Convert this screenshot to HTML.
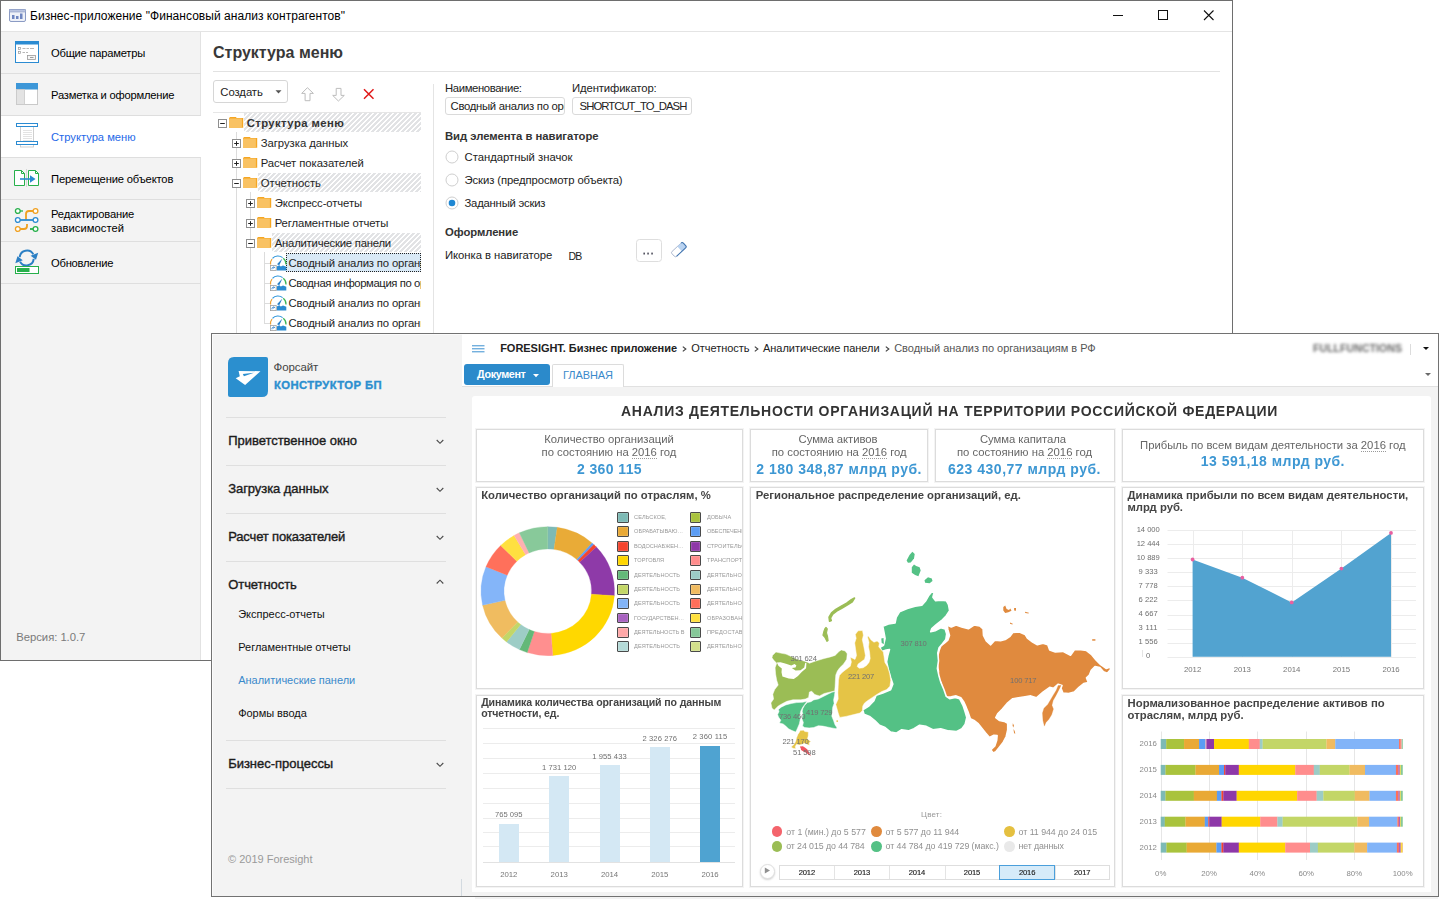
<!DOCTYPE html>
<html><head><meta charset="utf-8"><title>UI</title>
<style>
html,body{margin:0;padding:0;background:#fff;}
body{width:1440px;height:899px;position:relative;overflow:hidden;font-family:"Liberation Sans",sans-serif;font-size:12px;color:#000;}
.a{position:absolute;}
svg.a{overflow:visible;display:block;}
.t{position:absolute;white-space:pre;line-height:20px;height:20px;}
</style></head><body>
<div class="a" style="left:0px;top:0px;width:1233px;height:661px;background:#6e6e6e;"></div>
<div class="a" style="left:1px;top:1px;width:1231px;height:659px;background:#fff;"></div>
<div class="a" style="left:1px;top:31px;width:1231px;height:1px;background:#e4e4e4;"></div>
<svg class="a" style="left:9px;top:9px;" width="17" height="13" viewBox="0 0 17 13"><rect x="0.5" y="0.5" width="16" height="12" rx="1.5" fill="#eef1f8" stroke="#8b9bc4"/><rect x="0.5" y="0.5" width="16" height="2.5" fill="#b9c4e0" stroke="#8b9bc4" stroke-width="0.6"/><rect x="3" y="6" width="2.5" height="4" fill="#6f86c0"/><rect x="7" y="7" width="2.5" height="3" fill="#6f86c0"/><rect x="11" y="4.5" width="2.5" height="5.5" fill="#6f86c0"/></svg>
<div class="t" style="left:30.00px;top:6.00px;font-size:12px;letter-spacing:0.041px;">Бизнес-приложение &quot;Финансовый анализ контрагентов&quot;</div>
<svg class="a" style="left:1108px;top:6px;" width="110" height="20" viewBox="0 0 110 20"><path d="M5 9.5H15" stroke="#111" stroke-width="1" fill="none"/><rect x="50.5" y="4.5" width="9" height="9" fill="none" stroke="#111" stroke-width="1"/><path d="M96 4.5L105.5 14M105.5 4.5L96 14" stroke="#111" stroke-width="1.1" fill="none"/></svg>
<div class="a" style="left:1px;top:32px;width:199px;height:628px;background:#f3f3f3;"></div>
<div class="a" style="left:200px;top:32px;width:1px;height:628px;background:#e2e2e2;"></div>
<div class="a" style="left:1px;top:73px;width:200px;height:1px;background:#dedede;"></div>
<div class="a" style="left:1px;top:115px;width:200px;height:1px;background:#dedede;"></div>
<div class="a" style="left:1px;top:157px;width:200px;height:1px;background:#dedede;"></div>
<div class="a" style="left:1px;top:199px;width:200px;height:1px;background:#dedede;"></div>
<div class="a" style="left:1px;top:241px;width:200px;height:1px;background:#dedede;"></div>
<div class="a" style="left:1px;top:283px;width:200px;height:1px;background:#dedede;"></div>
<div class="a" style="left:1px;top:116px;width:200px;height:41px;background:#fff;"></div>
<div class="t" style="left:51.00px;top:43.00px;font-size:11.2px;letter-spacing:-0.236px;">Общие параметры</div>
<div class="t" style="left:51.00px;top:85.00px;font-size:11.2px;letter-spacing:-0.213px;">Разметка и оформление</div>
<div class="t" style="left:51.00px;top:127.00px;font-size:11.2px;color:#2468e8;">Структура меню</div>
<div class="t" style="left:51.00px;top:169.00px;font-size:11.2px;letter-spacing:-0.157px;">Перемещение объектов</div>
<div class="t" style="left:51.00px;top:204.00px;font-size:11.2px;letter-spacing:-0.145px;">Редактирование</div>
<div class="t" style="left:51.00px;top:218.00px;font-size:11.2px;letter-spacing:0.069px;">зависимостей</div>
<div class="t" style="left:51.00px;top:253.00px;font-size:11.2px;letter-spacing:-0.241px;">Обновление</div>
<svg class="a" style="left:15px;top:41px;" width="24" height="22" viewBox="0 0 24 22"><rect x="0.5" y="0.5" width="23" height="21" fill="#fff" stroke="#2b8bd2"/><rect x="0.5" y="0.5" width="23" height="3" fill="#2b8bd2"/><rect x="3.5" y="6.5" width="2" height="2" fill="none" stroke="#9a9a9a" stroke-width="0.7"/><rect x="3.5" y="10.5" width="2" height="2" fill="none" stroke="#9a9a9a" stroke-width="0.7"/><path d="M7.5 7.5h3M11.5 7.5h2.5M15 7.5h4M7.5 11.5h2.5M11 11.5h2" stroke="#a5a5a5" stroke-width="0.8"/><rect x="12.5" y="14.5" width="8" height="4" fill="#f5f5f5" stroke="#9a9a9a" stroke-width="0.8"/><path d="M15 16.5h3.5" stroke="#888" stroke-width="0.8"/></svg>
<svg class="a" style="left:16px;top:83px;" width="22" height="22" viewBox="0 0 22 22"><rect x="0.5" y="0.5" width="21" height="21" fill="#fff" stroke="#c9c9c9"/><rect x="0" y="0" width="22" height="6.5" fill="#3d97d8"/><rect x="0.5" y="6.5" width="8" height="15" fill="#e3e3e3" stroke="#c9c9c9" stroke-width="0.8"/></svg>
<svg class="a" style="left:16px;top:123px;" width="22" height="25" viewBox="0 0 22 25"><rect x="4.5" y="3" width="13" height="21" fill="#fff" stroke="#c4c4c4" stroke-width="0.8"/><path d="M7 7.5h9M7 9.5h9M7 11.5h9M7 13.5h9M7 15.5h9M7 17.5h9" stroke="#dcdcdc" stroke-width="0.8"/><rect x="0.5" y="0.5" width="21" height="3" fill="#fff" stroke="#2b8bd2"/><rect x="0.5" y="18.5" width="21" height="3" fill="#fff" stroke="#2b8bd2"/></svg>
<svg class="a" style="left:13px;top:169px;" width="27" height="18" viewBox="0 0 27 18"><path d="M1.5 1.5h7l3 3v12h-10z" fill="#fff" stroke="#27b04b"/><path d="M15.5 1.5h7l3 3v12h-10z" fill="#fff" stroke="#27b04b"/><path d="M8.5 1.5v3h3M22.500 1.5v3h3" fill="none" stroke="#27b04b"/><path d="M13.5 0v18" stroke="#c8c8c8" stroke-width="0.7"/><path d="M7 10h12" stroke="#2b8bd2" stroke-width="1.6"/><path d="M17 6.300l5.500 3.700-5.500 3.700z" fill="#2b8bd2"/></svg>
<svg class="a" style="left:14px;top:207px;" width="26" height="26" viewBox="0 0 26 26"><g fill="#fff" stroke-width="1.3"><path d="M6 4h3" stroke="#27b04b" fill="none"/><path d="M12 13V7q0-3 3-3h4" stroke="#f0a020" fill="none" stroke-width="1.8"/><path d="M6 13h14" stroke="#2b8bd2" stroke-width="1.8"/><path d="M6 22h4q3 0 3-3v-2" stroke="#f0a020" fill="none" stroke-width="1.8"/><path d="M16 22h4" stroke="#27b04b" stroke-width="1.8"/><circle cx="3.8" cy="4" r="2.4" stroke="#27b04b"/><circle cx="21.500" cy="4" r="2.4" stroke="#f0a020"/><circle cx="3.8" cy="13" r="2.4" stroke="#2b8bd2"/><circle cx="21.500" cy="13" r="2.4" stroke="#2b8bd2"/><circle cx="3.8" cy="22" r="2.4" stroke="#f0a020"/><circle cx="21.500" cy="22" r="2.4" stroke="#27b04b"/></g></svg>
<svg class="a" style="left:15px;top:248px;" width="25" height="27" viewBox="0 0 25 27"><path d="M4.700 9.200A7.300 7.300 0 0 1 18.300 6.300" fill="none" stroke="#2b7fc4" stroke-width="2"/><path d="M15.600 7.800L23.200 4.800L21 11.800z" fill="#2b7fc4"/><path d="M18.700 10.800A7.300 7.300 0 0 1 5.100 13.700" fill="none" stroke="#2b7fc4" stroke-width="2"/><path d="M7.800 12.200L0.300 15.200L2.500 8.200z" fill="#2b7fc4"/><rect x="0.500" y="18.500" width="23" height="7" fill="#fff" stroke="#27b04b"/><rect x="2" y="20" width="12.500" height="4" fill="#27b04b"/></svg>
<div class="t" style="left:16.30px;top:627.30px;font-size:11.3px;color:#7a7a7a;letter-spacing:-0.046px;">Версия: 1.0.7</div>
<div class="t" style="left:213.00px;top:42.50px;font-size:16px;font-weight:700;color:#383838;">Структура меню</div>
<div class="a" style="left:213px;top:71px;width:1007px;height:1px;background:#e2e2e2;"></div>
<div class="a" style="left:213px;top:80px;width:75px;height:23px;border:1px solid #d6d6d6;border-radius:3px;box-sizing:border-box;background:#fff;"></div>
<div class="t" style="left:220.30px;top:81.80px;font-size:11.3px;color:#222;letter-spacing:-0.062px;">Создать</div>
<svg class="a" style="left:275px;top:90px;" width="7" height="4" viewBox="0 0 7 4"><path d="M0.5 0.3h6L3.5 3.500z" fill="#555"/></svg>
<svg class="a" style="left:300px;top:87px;" width="14" height="15" viewBox="0 0 14 15"><path d="M7.400 0.700L1.700 6.400H5.100V13.700H10V6.400H13.400z" fill="#fff" stroke="#bdbdbd" stroke-width="1"/></svg>
<svg class="a" style="left:331px;top:87px;" width="14" height="15" viewBox="0 0 14 15"><path d="M7.400 14L1.700 8.400H5.200V1.400H10V8.400H13.300z" fill="#fff" stroke="#bdbdbd" stroke-width="1"/></svg>
<svg class="a" style="left:362px;top:88px;" width="13" height="12" viewBox="0 0 13 12"><path d="M2 1.300L11.500 10.700M11.500 1.300L2 10.700" stroke="#e01818" stroke-width="1.5" fill="none"/></svg>
<div class="a" style="left:433px;top:84px;width:1px;height:250px;background:#e4e4e4;"></div>
<div class="a" style="left:236px;top:132px;width:1px;height:202px;background:#dcdcdc;"></div>
<div class="a" style="left:250px;top:192px;width:1px;height:142px;background:#dcdcdc;"></div>
<div class="a" style="left:264px;top:252px;width:1px;height:72px;background:#dcdcdc;"></div>
<div class="a" style="left:264px;top:263px;width:6px;height:1px;background:#dcdcdc;"></div>
<div class="a" style="left:264px;top:283px;width:6px;height:1px;background:#dcdcdc;"></div>
<div class="a" style="left:264px;top:303px;width:6px;height:1px;background:#dcdcdc;"></div>
<div class="a" style="left:264px;top:323px;width:6px;height:1px;background:#dcdcdc;"></div>
<div class="a" style="left:213px;top:112px;width:208px;height:1px;background:#e6e6e6;"></div>
<svg class="a" width="0" height="0" style="left:0;top:0"><defs><pattern id="hp" width="5" height="5" patternUnits="userSpaceOnUse"><rect x="0" y="0" width="1" height="1" fill="#e2e3e5"/><rect x="1" y="0" width="1" height="1" fill="#e2e3e5"/><rect x="2" y="0" width="1" height="1" fill="#e2e3e5"/><rect x="0" y="1" width="1" height="1" fill="#e2e3e5"/><rect x="1" y="1" width="1" height="1" fill="#e2e3e5"/><rect x="4" y="1" width="1" height="1" fill="#e2e3e5"/><rect x="0" y="2" width="1" height="1" fill="#e2e3e5"/><rect x="3" y="2" width="1" height="1" fill="#e2e3e5"/><rect x="4" y="2" width="1" height="1" fill="#e2e3e5"/><rect x="2" y="3" width="1" height="1" fill="#e2e3e5"/><rect x="3" y="3" width="1" height="1" fill="#e2e3e5"/><rect x="4" y="3" width="1" height="1" fill="#e2e3e5"/><rect x="1" y="4" width="1" height="1" fill="#e2e3e5"/><rect x="2" y="4" width="1" height="1" fill="#e2e3e5"/><rect x="3" y="4" width="1" height="1" fill="#e2e3e5"/></pattern></defs></svg>
<svg class="a" style="left:244px;top:113px;shape-rendering:crispEdges;" width="177" height="19" viewBox="0 0 177 19"><rect width="177" height="19" fill="#ffffff"/><rect width="177" height="19" fill="url(#hp)"/></svg>
<svg class="a" style="left:258px;top:173px;shape-rendering:crispEdges;" width="163" height="19" viewBox="0 0 163 19"><rect width="163" height="19" fill="#ffffff"/><rect width="163" height="19" fill="url(#hp)"/></svg>
<svg class="a" style="left:272px;top:233px;shape-rendering:crispEdges;" width="149" height="19" viewBox="0 0 149 19"><rect width="149" height="19" fill="#ffffff"/><rect width="149" height="19" fill="url(#hp)"/></svg>
<div class="a" style="left:286px;top:253px;width:135px;height:19px;background:#d9e9f6;border:1px dotted #222;box-sizing:border-box;"></div>
<svg class="a" style="left:218px;top:119px;" width="9" height="9" viewBox="0 0 9 9"><rect x="0.5" y="0.5" width="8" height="8" fill="#fff" stroke="#8f8f8f"/><path d="M2.200 4.500h4.600" stroke="#222" stroke-width="1"/></svg>
<svg class="a" style="left:228.8px;top:117px;" width="15" height="11" viewBox="0 0 15 11"><path d="M1.200 0H7L7.600 1.100H14.200V10.800H0V1.100z" fill="#f5a623"/><rect x="0" y="1.500" width="12.900" height="9.300" fill="#f9c263"/></svg>
<div class="t" style="left:246.70px;top:113.00px;font-size:11.3px;font-weight:700;color:#333;letter-spacing:0.410px;">Структура меню</div>
<svg class="a" style="left:232px;top:139px;" width="9" height="9" viewBox="0 0 9 9"><rect x="0.5" y="0.5" width="8" height="8" fill="#fff" stroke="#8f8f8f"/><path d="M2.200 4.500h4.600" stroke="#222" stroke-width="1"/><path d="M4.500 2.200v4.600" stroke="#222" stroke-width="1"/></svg>
<svg class="a" style="left:242.8px;top:137px;" width="15" height="11" viewBox="0 0 15 11"><path d="M1.200 0H7L7.600 1.100H14.200V10.800H0V1.100z" fill="#f5a623"/><rect x="0" y="1.500" width="12.900" height="9.300" fill="#f9c263"/></svg>
<div class="t" style="left:260.70px;top:133.00px;font-size:11.3px;color:#1e1e1e;letter-spacing:-0.030px;">Загрузка данных</div>
<svg class="a" style="left:232px;top:159px;" width="9" height="9" viewBox="0 0 9 9"><rect x="0.5" y="0.5" width="8" height="8" fill="#fff" stroke="#8f8f8f"/><path d="M2.200 4.500h4.600" stroke="#222" stroke-width="1"/><path d="M4.500 2.200v4.600" stroke="#222" stroke-width="1"/></svg>
<svg class="a" style="left:242.8px;top:157px;" width="15" height="11" viewBox="0 0 15 11"><path d="M1.200 0H7L7.600 1.100H14.200V10.800H0V1.100z" fill="#f5a623"/><rect x="0" y="1.500" width="12.900" height="9.300" fill="#f9c263"/></svg>
<div class="t" style="left:260.70px;top:153.00px;font-size:11.3px;color:#1e1e1e;letter-spacing:-0.065px;">Расчет показателей</div>
<svg class="a" style="left:232px;top:179px;" width="9" height="9" viewBox="0 0 9 9"><rect x="0.5" y="0.5" width="8" height="8" fill="#fff" stroke="#8f8f8f"/><path d="M2.200 4.500h4.600" stroke="#222" stroke-width="1"/></svg>
<svg class="a" style="left:242.8px;top:177px;" width="15" height="11" viewBox="0 0 15 11"><path d="M1.200 0H7L7.600 1.100H14.200V10.800H0V1.100z" fill="#f5a623"/><rect x="0" y="1.500" width="12.900" height="9.300" fill="#f9c263"/></svg>
<div class="t" style="left:260.70px;top:173.00px;font-size:11.3px;color:#1e1e1e;letter-spacing:0.013px;">Отчетность</div>
<svg class="a" style="left:246px;top:199px;" width="9" height="9" viewBox="0 0 9 9"><rect x="0.5" y="0.5" width="8" height="8" fill="#fff" stroke="#8f8f8f"/><path d="M2.200 4.500h4.600" stroke="#222" stroke-width="1"/><path d="M4.500 2.200v4.600" stroke="#222" stroke-width="1"/></svg>
<svg class="a" style="left:256.8px;top:197px;" width="15" height="11" viewBox="0 0 15 11"><path d="M1.200 0H7L7.600 1.100H14.200V10.800H0V1.100z" fill="#f5a623"/><rect x="0" y="1.500" width="12.900" height="9.300" fill="#f9c263"/></svg>
<div class="t" style="left:274.70px;top:193.00px;font-size:11.3px;color:#1e1e1e;letter-spacing:-0.105px;">Экспресс-отчеты</div>
<svg class="a" style="left:246px;top:219px;" width="9" height="9" viewBox="0 0 9 9"><rect x="0.5" y="0.5" width="8" height="8" fill="#fff" stroke="#8f8f8f"/><path d="M2.200 4.500h4.600" stroke="#222" stroke-width="1"/><path d="M4.500 2.200v4.600" stroke="#222" stroke-width="1"/></svg>
<svg class="a" style="left:256.8px;top:217px;" width="15" height="11" viewBox="0 0 15 11"><path d="M1.200 0H7L7.600 1.100H14.200V10.800H0V1.100z" fill="#f5a623"/><rect x="0" y="1.500" width="12.900" height="9.300" fill="#f9c263"/></svg>
<div class="t" style="left:274.70px;top:213.00px;font-size:11.3px;color:#1e1e1e;letter-spacing:-0.111px;">Регламентные отчеты</div>
<svg class="a" style="left:246px;top:239px;" width="9" height="9" viewBox="0 0 9 9"><rect x="0.5" y="0.5" width="8" height="8" fill="#fff" stroke="#8f8f8f"/><path d="M2.200 4.500h4.600" stroke="#222" stroke-width="1"/></svg>
<svg class="a" style="left:256.8px;top:237px;" width="15" height="11" viewBox="0 0 15 11"><path d="M1.200 0H7L7.600 1.100H14.200V10.800H0V1.100z" fill="#f5a623"/><rect x="0" y="1.500" width="12.900" height="9.300" fill="#f9c263"/></svg>
<div class="t" style="left:274.70px;top:233.00px;font-size:11.3px;color:#1e1e1e;letter-spacing:-0.205px;">Аналитические панели</div>
<div class="a" style="left:0;top:0;width:421px;height:334px;overflow:hidden">
<svg class="a" style="left:270px;top:256.4px;" width="17" height="15" viewBox="0 0 17 15"><path d="M0.600 8.500A7.600 7.600 0 0 1 2 3" fill="none" stroke="#f0a030" stroke-width="1.200"/><path d="M2.500 2.300A7.600 7.600 0 0 1 12.600 1.600" fill="none" stroke="#2b93d8" stroke-width="1.200"/><path d="M13.300 2.200A7.600 7.600 0 0 1 16 8.500" fill="none" stroke="#3ab457" stroke-width="1.200"/><path d="M6.700 14.400V10.400L9.200 9.200L10.800 10.400L13 9.600L16.300 10.800V14.400z" fill="#2b8bd2"/><path d="M7 8.300L12.400 2.600L9.300 9.300z" fill="#2b7fc4"/><rect x="0.400" y="9.400" width="5.800" height="5.200" fill="#fff" stroke="#a0a0a0" stroke-width="0.800"/><path d="M2 13.300V12.300q0-0.900 1.300-0.900H4.400M3.500 10.400l1.100 1-1.100 1" fill="none" stroke="#2b7fd0" stroke-width="0.900"/></svg>
<div class="t" style="left:288.50px;top:253.00px;font-size:11.3px;color:#1e1e1e;letter-spacing:-0.143px;">Сводный анализ по организациям в РФ</div>
<svg class="a" style="left:270px;top:276.4px;" width="17" height="15" viewBox="0 0 17 15"><path d="M0.600 8.500A7.600 7.600 0 0 1 2 3" fill="none" stroke="#f0a030" stroke-width="1.200"/><path d="M2.500 2.300A7.600 7.600 0 0 1 12.600 1.600" fill="none" stroke="#2b93d8" stroke-width="1.200"/><path d="M13.300 2.200A7.600 7.600 0 0 1 16 8.500" fill="none" stroke="#3ab457" stroke-width="1.200"/><path d="M6.700 14.400V10.400L9.200 9.200L10.800 10.400L13 9.600L16.300 10.800V14.400z" fill="#2b8bd2"/><path d="M7 8.300L12.400 2.600L9.300 9.300z" fill="#2b7fc4"/><rect x="0.400" y="9.400" width="5.800" height="5.200" fill="#fff" stroke="#a0a0a0" stroke-width="0.800"/><path d="M2 13.300V12.300q0-0.900 1.300-0.900H4.400M3.500 10.400l1.100 1-1.100 1" fill="none" stroke="#2b7fd0" stroke-width="0.900"/></svg>
<div class="t" style="left:288.50px;top:273.00px;font-size:11.3px;color:#1e1e1e;letter-spacing:-0.403px;">Сводная информация по организации</div>
<svg class="a" style="left:270px;top:296.4px;" width="17" height="15" viewBox="0 0 17 15"><path d="M0.600 8.500A7.600 7.600 0 0 1 2 3" fill="none" stroke="#f0a030" stroke-width="1.200"/><path d="M2.500 2.300A7.600 7.600 0 0 1 12.600 1.600" fill="none" stroke="#2b93d8" stroke-width="1.200"/><path d="M13.300 2.200A7.600 7.600 0 0 1 16 8.500" fill="none" stroke="#3ab457" stroke-width="1.200"/><path d="M6.700 14.400V10.400L9.200 9.200L10.800 10.400L13 9.600L16.300 10.800V14.400z" fill="#2b8bd2"/><path d="M7 8.300L12.400 2.600L9.300 9.300z" fill="#2b7fc4"/><rect x="0.400" y="9.400" width="5.800" height="5.200" fill="#fff" stroke="#a0a0a0" stroke-width="0.800"/><path d="M2 13.300V12.300q0-0.900 1.300-0.900H4.400M3.500 10.400l1.100 1-1.100 1" fill="none" stroke="#2b7fd0" stroke-width="0.900"/></svg>
<div class="t" style="left:288.50px;top:293.00px;font-size:11.3px;color:#1e1e1e;letter-spacing:-0.143px;">Сводный анализ по организациям (регион)</div>
<svg class="a" style="left:270px;top:316.4px;" width="17" height="15" viewBox="0 0 17 15"><path d="M0.600 8.500A7.600 7.600 0 0 1 2 3" fill="none" stroke="#f0a030" stroke-width="1.200"/><path d="M2.500 2.300A7.600 7.600 0 0 1 12.600 1.600" fill="none" stroke="#2b93d8" stroke-width="1.200"/><path d="M13.300 2.200A7.600 7.600 0 0 1 16 8.500" fill="none" stroke="#3ab457" stroke-width="1.200"/><path d="M6.700 14.400V10.400L9.200 9.200L10.800 10.400L13 9.600L16.300 10.800V14.400z" fill="#2b8bd2"/><path d="M7 8.300L12.400 2.600L9.300 9.300z" fill="#2b7fc4"/><rect x="0.400" y="9.400" width="5.800" height="5.200" fill="#fff" stroke="#a0a0a0" stroke-width="0.800"/><path d="M2 13.300V12.300q0-0.900 1.300-0.900H4.400M3.500 10.400l1.100 1-1.100 1" fill="none" stroke="#2b7fd0" stroke-width="0.900"/></svg>
<div class="t" style="left:288.50px;top:313.00px;font-size:11.3px;color:#1e1e1e;letter-spacing:-0.143px;">Сводный анализ по организациям (отрасль)</div>
</div>
<div class="t" style="left:445.00px;top:78.00px;font-size:11.3px;color:#222;letter-spacing:-0.373px;">Наименование:</div>
<div class="t" style="left:572.00px;top:78.00px;font-size:11.3px;color:#222;letter-spacing:-0.122px;">Идентификатор:</div>
<div class="a" style="left:445px;top:97px;width:120px;height:18px;border:1px solid #dadada;border-radius:3px;box-sizing:border-box;background:#fff;"></div>
<div class="a" style="left:572px;top:97px;width:120px;height:18px;border:1px solid #dadada;border-radius:3px;box-sizing:border-box;background:#fff;"></div>
<div class="a" style="left:446px;top:98px;width:117.500px;height:16px;overflow:hidden">
<div class="a" style="left:-446px;top:-98px">
<div class="t" style="left:450.50px;top:95.60px;font-size:11.3px;color:#222;letter-spacing:-0.280px;">Сводный анализ по организациям в РФ</div>
</div></div>
<div class="t" style="left:579.60px;top:95.60px;font-size:11.3px;color:#222;letter-spacing:-0.950px;">SHORTCUT_TO_DASH</div>
<div class="t" style="left:445.00px;top:126.20px;font-size:11.3px;font-weight:700;color:#333;letter-spacing:-0.039px;">Вид элемента в навигаторе</div>
<svg class="a" style="left:444.5px;top:149.9px;" width="14" height="14" viewBox="0 0 14 14"><circle cx="7" cy="7" r="6" fill="#fff" stroke="#cfcfcf"/></svg>
<div class="t" style="left:464.50px;top:147.20px;font-size:11.3px;color:#222;letter-spacing:-0.010px;">Стандартный значок</div>
<svg class="a" style="left:444.5px;top:172.9px;" width="14" height="14" viewBox="0 0 14 14"><circle cx="7" cy="7" r="6" fill="#fff" stroke="#cfcfcf"/></svg>
<div class="t" style="left:464.50px;top:170.20px;font-size:11.3px;color:#222;letter-spacing:-0.098px;">Эскиз (предпросмотр объекта)</div>
<svg class="a" style="left:444.5px;top:195.9px;" width="14" height="14" viewBox="0 0 14 14"><circle cx="7" cy="7" r="6" fill="#fff" stroke="#cfcfcf"/><circle cx="7" cy="7" r="3.300" fill="#1f87d3"/></svg>
<div class="t" style="left:464.50px;top:193.00px;font-size:11.3px;color:#222;letter-spacing:-0.220px;">Заданный эскиз</div>
<div class="t" style="left:445.00px;top:222.00px;font-size:11.3px;font-weight:700;color:#333;letter-spacing:-0.071px;">Оформление</div>
<div class="t" style="left:445.00px;top:245.20px;font-size:11.3px;color:#222;letter-spacing:-0.043px;">Иконка в навигаторе</div>
<div class="t" style="left:568.40px;top:245.50px;font-size:10.5px;color:#222;letter-spacing:-0.847px;">DB</div>
<div class="a" style="left:636.3px;top:239.2px;width:25.4px;height:22.5px;border:1px solid #dedede;border-radius:3.500px;box-sizing:border-box;background:#fff;"></div>
<svg class="a" style="left:643.4px;top:252.4px;" width="11" height="3" viewBox="0 0 11 3"><rect x="0.500" y="0.600" width="1.300" height="1.900" fill="#2a2a3a"/><rect x="4.400" y="0.600" width="1.300" height="1.900" fill="#2a2a3a"/><rect x="8.400" y="0.600" width="1.300" height="1.900" fill="#2a2a3a"/></svg>
<svg class="a" style="left:669.5px;top:240.7px;" width="18" height="17" viewBox="0 0 18 17"><g transform="rotate(-43 9 8.500)"><rect x="1" y="5.200" width="15.500" height="6.600" rx="1.600" fill="#fff" stroke="#9aa9c4" stroke-width="0.800"/><path d="M9.800 5.200H14.900Q16.500 5.200 16.500 6.800V10.200Q16.500 11.800 14.900 11.800H9.800z" fill="#b9d3f1"/><path d="M2.600 11.800H14.900Q16.500 11.800 16.500 10.200V6.800Q16.500 5.200 14.900 5.200" fill="none" stroke="#4377b2" stroke-width="1.100"/></g></svg>
<div class="a" style="left:211px;top:333px;width:1228px;height:564px;background:#727272;"></div>
<div class="a" style="left:212px;top:334px;width:1226px;height:562px;background:#f3f3f3;"></div>
<div class="a" style="left:212px;top:334px;width:250px;height:1px;background:#fbfbfb;"></div>
<div class="a" style="left:212px;top:334px;width:1px;height:562px;background:#fbfbfb;"></div>
<svg class="a" style="left:228px;top:357px;" width="40" height="40" viewBox="0 0 40 40"><path d="M6 0H38Q40 0 40 2V34Q40 40 34 40H2Q0 40 0 38V6Q0 0 6 0z" fill="#2b8fcf"/><path d="M10.600 13.900L32.500 14.200L17.100 28.100L7.700 21.300L11.800 19.200z" fill="#fff"/><path d="M14.800 16.900L26 15.700L15.900 19.200z" fill="#2b8fcf"/></svg>
<div class="t" style="left:273.60px;top:357.00px;font-size:11.5px;color:#444;letter-spacing:-0.125px;">Форсайт</div>
<div class="t" style="left:273.90px;top:374.50px;font-size:11.3px;font-weight:700;color:#2b8fcf;letter-spacing:0.405px;-webkit-text-stroke:0.350px #2b8fcf;">КОНСТРУКТОР БП</div>
<div class="a" style="left:226px;top:417px;width:220px;height:1px;background:#dfdfdf;"></div>
<div class="a" style="left:226px;top:465px;width:220px;height:1px;background:#dfdfdf;"></div>
<div class="a" style="left:226px;top:513px;width:220px;height:1px;background:#dfdfdf;"></div>
<div class="a" style="left:226px;top:561px;width:220px;height:1px;background:#dfdfdf;"></div>
<div class="a" style="left:226px;top:740px;width:220px;height:1px;background:#dfdfdf;"></div>
<div class="a" style="left:226px;top:788px;width:220px;height:1px;background:#dfdfdf;"></div>
<div class="t" style="left:228.20px;top:430.80px;font-size:13px;color:#1c1c1c;letter-spacing:-0.032px;-webkit-text-stroke:0.380px #1c1c1c;">Приветственное окно</div>
<svg class="a" style="left:435.5px;top:439.0px;" width="8" height="6" viewBox="0 0 8 6"><path d="M0.700 1L4 4.300L7.300 1" fill="none" stroke="#4a4a4a" stroke-width="1.100"/></svg>
<div class="t" style="left:228.20px;top:478.80px;font-size:13px;color:#1c1c1c;letter-spacing:-0.067px;-webkit-text-stroke:0.380px #1c1c1c;">Загрузка данных</div>
<svg class="a" style="left:435.5px;top:487.0px;" width="8" height="6" viewBox="0 0 8 6"><path d="M0.700 1L4 4.300L7.300 1" fill="none" stroke="#4a4a4a" stroke-width="1.100"/></svg>
<div class="t" style="left:228.20px;top:526.80px;font-size:13px;color:#1c1c1c;letter-spacing:-0.161px;-webkit-text-stroke:0.380px #1c1c1c;">Расчет показателей</div>
<svg class="a" style="left:435.5px;top:535.0px;" width="8" height="6" viewBox="0 0 8 6"><path d="M0.700 1L4 4.300L7.300 1" fill="none" stroke="#4a4a4a" stroke-width="1.100"/></svg>
<div class="t" style="left:228.20px;top:574.60px;font-size:13px;color:#1c1c1c;letter-spacing:-0.063px;-webkit-text-stroke:0.380px #1c1c1c;">Отчетность</div>
<svg class="a" style="left:435.5px;top:579.4px;" width="8" height="6" viewBox="0 0 8 6"><path d="M0.700 4.500L4 1.200L7.300 4.500" fill="none" stroke="#4a4a4a" stroke-width="1.100"/></svg>
<div class="t" style="left:228.20px;top:754.00px;font-size:13px;color:#1c1c1c;letter-spacing:-0.025px;-webkit-text-stroke:0.380px #1c1c1c;">Бизнес-процессы</div>
<svg class="a" style="left:435.5px;top:762.2px;" width="8" height="6" viewBox="0 0 8 6"><path d="M0.700 1L4 4.300L7.300 1" fill="none" stroke="#4a4a4a" stroke-width="1.100"/></svg>
<div class="t" style="left:238.20px;top:603.60px;font-size:11px;color:#111;letter-spacing:-0.010px;">Экспресс-отчеты</div>
<div class="t" style="left:238.20px;top:636.70px;font-size:11px;color:#111;letter-spacing:-0.004px;">Регламентные отчеты</div>
<div class="t" style="left:238.20px;top:670.00px;font-size:11px;color:#3a8acb;letter-spacing:-0.011px;">Аналитические панели</div>
<div class="t" style="left:238.20px;top:703.00px;font-size:11px;color:#111;letter-spacing:-0.046px;">Формы ввода</div>
<div class="t" style="left:228.00px;top:849.30px;font-size:11px;color:#9a9a9a;">© 2019 Foresight</div>
<div class="a" style="left:462px;top:334px;width:976px;height:52px;background:#fff;"></div>
<div class="a" style="left:462px;top:386px;width:976px;height:1px;background:#e1e1e1;"></div>
<svg class="a" style="left:471.5px;top:345px;" width="13" height="7" viewBox="0 0 13 7"><path d="M0 0.800h12.500M0 3.800h12.500M0 6.800h12.500" stroke="#3a8fd0" stroke-width="1"/></svg>
<div class="t" style="left:500.20px;top:338.00px;font-size:11px;font-weight:700;color:#222;letter-spacing:-0.037px;">FORESIGHT. Бизнес приложение</div>
<div class="t" style="left:691.20px;top:338.00px;font-size:11px;color:#222;letter-spacing:-0.028px;">Отчетность</div>
<div class="t" style="left:763.00px;top:338.00px;font-size:11px;color:#222;letter-spacing:-0.036px;">Аналитические панели</div>
<div class="t" style="left:894.20px;top:338.00px;font-size:11px;color:#555;letter-spacing:-0.021px;">Сводный анализ по организациям в РФ</div>
<svg class="a" style="left:682px;top:345.5px;" width="5" height="6" viewBox="0 0 5 6"><path d="M0.800 0.600L3.800 3L0.800 5.400" fill="none" stroke="#444" stroke-width="1.200"/></svg>
<svg class="a" style="left:753.6px;top:345.5px;" width="5" height="6" viewBox="0 0 5 6"><path d="M0.800 0.600L3.800 3L0.800 5.400" fill="none" stroke="#444" stroke-width="1.200"/></svg>
<svg class="a" style="left:885px;top:345.5px;" width="5" height="6" viewBox="0 0 5 6"><path d="M0.800 0.600L3.800 3L0.800 5.400" fill="none" stroke="#444" stroke-width="1.200"/></svg>
<div class="a" style="left:1313px;top:341px;width:90px;height:14px;filter:blur(1.600px);">
<div class="a" style="left:-1313px;top:-341px">
<div class="t" style="left:1313.00px;top:338.00px;font-size:10.5px;font-weight:700;color:#666;letter-spacing:0.071px;">FULLFUNCTIONS</div>
</div></div>
<div class="a" style="left:1410px;top:344px;width:1px;height:11px;background:#dcdcdc;"></div>
<svg class="a" style="left:1423px;top:347px;" width="6" height="3" viewBox="0 0 6 3"><path d="M0 0h6L3 3z" fill="#111"/></svg>
<svg class="a" style="left:1425px;top:373px;" width="6" height="3" viewBox="0 0 6 3"><path d="M0 0h6L3 3z" fill="#6a6a6a"/></svg>
<div class="a" style="left:464px;top:364px;width:86px;height:21px;background:#2b8acb;border-radius:3px;"></div>
<div class="t" style="left:477.00px;top:364.00px;font-size:10.8px;font-weight:700;color:#fff;letter-spacing:-0.375px;">Документ</div>
<svg class="a" style="left:533px;top:373.5px;" width="6" height="3.5" viewBox="0 0 6 3.5"><path d="M0 0h6L3 3.300z" fill="#fff"/></svg>
<div class="a" style="left:552px;top:364px;width:72px;height:23px;background:#fff;border:1px solid #dcdcdc;border-bottom:none;box-sizing:border-box;border-radius:2px 2px 0 0;"></div>
<div class="t" style="left:563.00px;top:364.80px;font-size:11px;color:#3a8acb;letter-spacing:-0.067px;">ГЛАВНАЯ</div>
<div class="a" style="left:472px;top:396px;width:958.5px;height:496px;background:#fff;border-radius:3px 3px 0 0;"></div>
<div class="a" style="left:461px;top:879px;width:1px;height:17px;background:#d3dae0;"></div>
<div class="a" style="left:475px;top:897px;width:963px;height:2px;background:#f2f2f2;"></div>
<div class="a" style="left:0;top:0;width:1440px;height:899px;filter:blur(0.350px);">
<div class="t" style="left:621.00px;top:400.80px;font-size:14px;font-weight:700;color:#333;letter-spacing:0.706px;">АНАЛИЗ ДЕЯТЕЛЬНОСТИ ОРГАНИЗАЦИЙ НА ТЕРРИТОРИИ РОССИЙСКОЙ ФЕДЕРАЦИИ</div>
<div class="a" style="left:476px;top:429px;width:267px;height:53px;border:1px solid #dcdcdc;box-sizing:border-box;background:#fff;box-shadow:0 0 0 1px #f4f4f4;"></div>
<div class="t" style="left:544.25px;top:429.00px;font-size:11.3px;color:#666;letter-spacing:-0.006px;">Количество организаций</div>
<div class="t" style="left:541.60px;top:442.20px;font-size:11.3px;color:#666;letter-spacing:-0.020px;">по состоянию на <span style="border-bottom:1px dotted #999;display:inline-block;line-height:12px;">2016</span> год</div>
<div class="t" style="left:577.00px;top:458.50px;font-size:14px;font-weight:700;color:#3d97d3;letter-spacing:0.387px;">2 360 115</div>
<div class="a" style="left:750px;top:429px;width:178px;height:53px;border:1px solid #dcdcdc;box-sizing:border-box;background:#fff;box-shadow:0 0 0 1px #f4f4f4;"></div>
<div class="t" style="left:798.60px;top:429.00px;font-size:11.3px;color:#666;letter-spacing:-0.065px;">Сумма активов</div>
<div class="t" style="left:771.70px;top:442.20px;font-size:11.3px;color:#666;letter-spacing:-0.012px;">по состоянию на <span style="border-bottom:1px dotted #999;display:inline-block;line-height:12px;">2016</span> год</div>
<div class="t" style="left:756.20px;top:458.50px;font-size:14px;font-weight:700;color:#3d97d3;letter-spacing:0.511px;">2 180 348,87 млрд руб.</div>
<div class="a" style="left:935px;top:429px;width:180px;height:53px;border:1px solid #dcdcdc;box-sizing:border-box;background:#fff;box-shadow:0 0 0 1px #f4f4f4;"></div>
<div class="t" style="left:979.90px;top:429.00px;font-size:11.3px;color:#666;letter-spacing:-0.039px;">Сумма капитала</div>
<div class="t" style="left:957.00px;top:442.20px;font-size:11.3px;color:#666;letter-spacing:-0.012px;">по состоянию на <span style="border-bottom:1px dotted #999;display:inline-block;line-height:12px;">2016</span> год</div>
<div class="t" style="left:948.00px;top:458.50px;font-size:14px;font-weight:700;color:#3d97d3;letter-spacing:0.505px;">623 430,77 млрд руб.</div>
<div class="a" style="left:1122px;top:429px;width:302px;height:53px;border:1px solid #dcdcdc;box-sizing:border-box;background:#fff;box-shadow:0 0 0 1px #f4f4f4;"></div>
<div class="t" style="left:1140.05px;top:434.80px;font-size:11.3px;color:#666;letter-spacing:-0.008px;">Прибыль по всем видам деятельности за <span style="border-bottom:1px dotted #999;display:inline-block;line-height:12px;">2016</span> год</div>
<div class="t" style="left:1200.80px;top:451.20px;font-size:14px;font-weight:700;color:#3d97d3;letter-spacing:0.479px;">13 591,18 млрд руб.</div>
<div class="a" style="left:476px;top:487px;width:267px;height:202px;border:1px solid #dcdcdc;box-sizing:border-box;background:#fff;box-shadow:0 0 0 1px #f4f4f4;"></div>
<div class="t" style="left:481.20px;top:484.80px;font-size:11.3px;font-weight:700;color:#444;letter-spacing:-0.019px;">Количество организаций по отраслям, %</div>
<svg class="a" style="left:0px;top:0px;pointer-events:none;" width="1440" height="899" viewBox="0 0 1440 899"><g transform="translate(547.75 0) scale(1.035 1) translate(-547.75 0)"><path d="M547.75 526.70A64.5 64.5 0 0 1 556.95 527.36L553.78 549.33A42.3 42.3 0 0 0 547.75 548.90z" fill="#7dbab5" stroke="#7dbab5" stroke-width="0.3"/><path d="M556.95 527.36A64.5 64.5 0 0 1 590.57 542.97L575.83 559.57A42.3 42.3 0 0 0 553.78 549.33z" fill="#e9ab37" stroke="#e9ab37" stroke-width="0.3"/><path d="M590.57 542.97A64.5 64.5 0 0 1 592.31 544.57L576.97 560.62A42.3 42.3 0 0 0 575.83 559.57z" fill="#5b9df5" stroke="#5b9df5" stroke-width="0.3"/><path d="M592.31 544.57A64.5 64.5 0 0 1 594.77 547.05L578.59 562.24A42.3 42.3 0 0 0 576.97 560.62z" fill="#f4442e" stroke="#f4442e" stroke-width="0.3"/><path d="M594.77 547.05A64.5 64.5 0 0 1 612.09 595.70L589.95 594.15A42.3 42.3 0 0 0 578.59 562.24z" fill="#8e3aa8" stroke="#8e3aa8" stroke-width="0.3"/><path d="M612.09 595.70A64.5 64.5 0 0 1 552.59 655.52L550.92 633.38A42.3 42.3 0 0 0 589.95 594.15z" fill="#ffd800" stroke="#ffd800" stroke-width="0.3"/><path d="M552.59 655.52A64.5 64.5 0 0 1 527.93 652.58L534.75 631.45A42.3 42.3 0 0 0 550.92 633.38z" fill="#ff8f8f" stroke="#ff8f8f" stroke-width="0.3"/><path d="M527.93 652.58A64.5 64.5 0 0 1 520.39 649.61L529.81 629.51A42.3 42.3 0 0 0 534.75 631.45z" fill="#63b878" stroke="#63b878" stroke-width="0.3"/><path d="M520.39 649.61A64.5 64.5 0 0 1 507.95 641.96L521.65 624.49A42.3 42.3 0 0 0 529.81 629.51z" fill="#9dcdc6" stroke="#9dcdc6" stroke-width="0.3"/><path d="M507.95 641.96A64.5 64.5 0 0 1 503.43 638.06L518.69 621.93A42.3 42.3 0 0 0 521.65 624.49z" fill="#c3d667" stroke="#c3d667" stroke-width="0.3"/><path d="M503.43 638.06A64.5 64.5 0 0 1 484.78 605.16L506.45 600.36A42.3 42.3 0 0 0 518.69 621.93z" fill="#f0bc60" stroke="#f0bc60" stroke-width="0.3"/><path d="M484.78 605.16A64.5 64.5 0 0 1 488.07 566.73L508.61 575.15A42.3 42.3 0 0 0 506.45 600.36z" fill="#84b5f9" stroke="#84b5f9" stroke-width="0.3"/><path d="M488.07 566.73A64.5 64.5 0 0 1 502.30 545.43L517.94 561.19A42.3 42.3 0 0 0 508.61 575.15z" fill="#ff705b" stroke="#ff705b" stroke-width="0.3"/><path d="M502.30 545.43A64.5 64.5 0 0 1 515.21 535.51L526.41 554.68A42.3 42.3 0 0 0 517.94 561.19z" fill="#ffe040" stroke="#ffe040" stroke-width="0.3"/><path d="M515.21 535.51A64.5 64.5 0 0 1 520.29 532.84L529.74 552.93A42.3 42.3 0 0 0 526.41 554.68z" fill="#ffb1b1" stroke="#ffb1b1" stroke-width="0.3"/><path d="M520.29 532.84A64.5 64.5 0 0 1 547.75 526.70L547.75 548.90A42.3 42.3 0 0 0 529.74 552.93z" fill="#88c99a" stroke="#88c99a" stroke-width="0.3"/></g></svg>
<div class="a" style="left:0;top:0;width:742px;height:700px;overflow:hidden">
<div class="a" style="left:616.8px;top:512.1px;width:11.9px;height:10.8px;background:#7dbab5;border:1px solid #4a4a4a;box-sizing:border-box;border-radius:1px;box-shadow:inset 0 0 0 0.500px rgba(255,255,255,0.25);"></div>
<div class="t" style="left:634.10px;top:507.10px;font-size:5.6px;color:#999;letter-spacing:0.069px;">СЕЛЬСКОЕ,</div>
<div class="a" style="left:689.6px;top:512.1px;width:11.9px;height:10.8px;background:#a9c33d;border:1px solid #4a4a4a;box-sizing:border-box;border-radius:1px;box-shadow:inset 0 0 0 0.500px rgba(255,255,255,0.25);"></div>
<div class="t" style="left:706.90px;top:507.10px;font-size:5.6px;color:#999;letter-spacing:0.044px;">ДОБЫЧА</div>
<div class="a" style="left:616.8px;top:526.47px;width:11.9px;height:10.8px;background:#e9a935;border:1px solid #4a4a4a;box-sizing:border-box;border-radius:1px;box-shadow:inset 0 0 0 0.500px rgba(255,255,255,0.25);"></div>
<div class="t" style="left:634.10px;top:521.47px;font-size:5.6px;color:#999;letter-spacing:0.013px;">ОБРАБАТЫВАЮ…</div>
<div class="a" style="left:689.6px;top:526.47px;width:11.9px;height:10.8px;background:#5b9df5;border:1px solid #4a4a4a;box-sizing:border-box;border-radius:1px;box-shadow:inset 0 0 0 0.500px rgba(255,255,255,0.25);"></div>
<div class="t" style="left:706.90px;top:521.47px;font-size:5.6px;color:#999;letter-spacing:-0.072px;">ОБЕСПЕЧЕНИЕ</div>
<div class="a" style="left:616.8px;top:540.84px;width:11.9px;height:10.8px;background:#f4442e;border:1px solid #4a4a4a;box-sizing:border-box;border-radius:1px;box-shadow:inset 0 0 0 0.500px rgba(255,255,255,0.25);"></div>
<div class="t" style="left:634.10px;top:535.84px;font-size:5.6px;color:#999;letter-spacing:-0.036px;">ВОДОСНАБЖЕН…</div>
<div class="a" style="left:689.6px;top:540.84px;width:11.9px;height:10.8px;background:#8e38a8;border:1px solid #4a4a4a;box-sizing:border-box;border-radius:1px;box-shadow:inset 0 0 0 0.500px rgba(255,255,255,0.25);"></div>
<div class="t" style="left:706.90px;top:535.84px;font-size:5.6px;color:#999;letter-spacing:0.093px;">СТРОИТЕЛЬСТВО</div>
<div class="a" style="left:616.8px;top:555.21px;width:11.9px;height:10.8px;background:#ffd600;border:1px solid #4a4a4a;box-sizing:border-box;border-radius:1px;box-shadow:inset 0 0 0 0.500px rgba(255,255,255,0.25);"></div>
<div class="t" style="left:634.10px;top:550.21px;font-size:5.6px;color:#999;letter-spacing:0.037px;">ТОРГОВЛЯ</div>
<div class="a" style="left:689.6px;top:555.21px;width:11.9px;height:10.8px;background:#ff8d8d;border:1px solid #4a4a4a;box-sizing:border-box;border-radius:1px;box-shadow:inset 0 0 0 0.500px rgba(255,255,255,0.25);"></div>
<div class="t" style="left:706.90px;top:550.21px;font-size:5.6px;color:#999;letter-spacing:0.163px;">ТРАНСПОРТИРОВКА</div>
<div class="a" style="left:616.8px;top:569.58px;width:11.9px;height:10.8px;background:#63b878;border:1px solid #4a4a4a;box-sizing:border-box;border-radius:1px;box-shadow:inset 0 0 0 0.500px rgba(255,255,255,0.25);"></div>
<div class="t" style="left:634.10px;top:564.58px;font-size:5.6px;color:#999;letter-spacing:0.051px;">ДЕЯТЕЛЬНОСТЬ</div>
<div class="a" style="left:689.6px;top:569.58px;width:11.9px;height:10.8px;background:#9cccc6;border:1px solid #4a4a4a;box-sizing:border-box;border-radius:1px;box-shadow:inset 0 0 0 0.500px rgba(255,255,255,0.25);"></div>
<div class="t" style="left:706.90px;top:564.58px;font-size:5.6px;color:#999;letter-spacing:0.051px;">ДЕЯТЕЛЬНОСТЬ</div>
<div class="a" style="left:616.8px;top:583.95px;width:11.9px;height:10.8px;background:#c3d667;border:1px solid #4a4a4a;box-sizing:border-box;border-radius:1px;box-shadow:inset 0 0 0 0.500px rgba(255,255,255,0.25);"></div>
<div class="t" style="left:634.10px;top:578.95px;font-size:5.6px;color:#999;letter-spacing:0.051px;">ДЕЯТЕЛЬНОСТЬ</div>
<div class="a" style="left:689.6px;top:583.95px;width:11.9px;height:10.8px;background:#f0bb60;border:1px solid #4a4a4a;box-sizing:border-box;border-radius:1px;box-shadow:inset 0 0 0 0.500px rgba(255,255,255,0.25);"></div>
<div class="t" style="left:706.90px;top:578.95px;font-size:5.6px;color:#999;letter-spacing:0.051px;">ДЕЯТЕЛЬНОСТЬ</div>
<div class="a" style="left:616.8px;top:598.32px;width:11.9px;height:10.8px;background:#82b4f8;border:1px solid #4a4a4a;box-sizing:border-box;border-radius:1px;box-shadow:inset 0 0 0 0.500px rgba(255,255,255,0.25);"></div>
<div class="t" style="left:634.10px;top:593.32px;font-size:5.6px;color:#999;letter-spacing:0.051px;">ДЕЯТЕЛЬНОСТЬ</div>
<div class="a" style="left:689.6px;top:598.32px;width:11.9px;height:10.8px;background:#ff6f5a;border:1px solid #4a4a4a;box-sizing:border-box;border-radius:1px;box-shadow:inset 0 0 0 0.500px rgba(255,255,255,0.25);"></div>
<div class="t" style="left:706.90px;top:593.32px;font-size:5.6px;color:#999;letter-spacing:0.051px;">ДЕЯТЕЛЬНОСТЬ</div>
<div class="a" style="left:616.8px;top:612.69px;width:11.9px;height:10.8px;background:#a862c0;border:1px solid #4a4a4a;box-sizing:border-box;border-radius:1px;box-shadow:inset 0 0 0 0.500px rgba(255,255,255,0.25);"></div>
<div class="t" style="left:634.10px;top:607.69px;font-size:5.6px;color:#999;letter-spacing:0.017px;">ГОСУДАРСТВЕН…</div>
<div class="a" style="left:689.6px;top:612.69px;width:11.9px;height:10.8px;background:#ffe03d;border:1px solid #4a4a4a;box-sizing:border-box;border-radius:1px;box-shadow:inset 0 0 0 0.500px rgba(255,255,255,0.25);"></div>
<div class="t" style="left:706.90px;top:607.69px;font-size:5.6px;color:#999;letter-spacing:0.156px;">ОБРАЗОВАНИЕ</div>
<div class="a" style="left:616.8px;top:627.06px;width:11.9px;height:10.8px;background:#ffa8a8;border:1px solid #4a4a4a;box-sizing:border-box;border-radius:1px;box-shadow:inset 0 0 0 0.500px rgba(255,255,255,0.25);"></div>
<div class="t" style="left:634.10px;top:622.06px;font-size:5.6px;color:#999;letter-spacing:-0.012px;">ДЕЯТЕЛЬНОСТЬ В</div>
<div class="a" style="left:689.6px;top:627.06px;width:11.9px;height:10.8px;background:#86c898;border:1px solid #4a4a4a;box-sizing:border-box;border-radius:1px;box-shadow:inset 0 0 0 0.500px rgba(255,255,255,0.25);"></div>
<div class="t" style="left:706.90px;top:622.06px;font-size:5.6px;color:#999;letter-spacing:0.192px;">ПРЕДОСТАВЛЕНИЕ</div>
<div class="a" style="left:616.8px;top:641.43px;width:11.9px;height:10.8px;background:#b5dbd8;border:1px solid #4a4a4a;box-sizing:border-box;border-radius:1px;box-shadow:inset 0 0 0 0.500px rgba(255,255,255,0.25);"></div>
<div class="t" style="left:634.10px;top:636.43px;font-size:5.6px;color:#999;letter-spacing:0.051px;">ДЕЯТЕЛЬНОСТЬ</div>
<div class="a" style="left:689.6px;top:641.43px;width:11.9px;height:10.8px;background:#d3e08b;border:1px solid #4a4a4a;box-sizing:border-box;border-radius:1px;box-shadow:inset 0 0 0 0.500px rgba(255,255,255,0.25);"></div>
<div class="t" style="left:706.90px;top:636.43px;font-size:5.6px;color:#999;letter-spacing:0.051px;">ДЕЯТЕЛЬНОСТЬ</div>
</div>
<div class="a" style="left:476px;top:695px;width:267px;height:192px;border:1px solid #dcdcdc;box-sizing:border-box;background:#fff;box-shadow:0 0 0 1px #f4f4f4;"></div>
<div class="t" style="left:481.20px;top:692.20px;font-size:10.6px;font-weight:700;color:#444;letter-spacing:-0.132px;">Динамика количества организаций по данным</div>
<div class="t" style="left:481.20px;top:703.20px;font-size:10.6px;font-weight:700;color:#444;letter-spacing:-0.151px;">отчетности, ед.</div>
<div class="a" style="left:483px;top:728px;width:252px;height:1px;background:#ececec;"></div>
<div class="a" style="left:483px;top:743px;width:252px;height:1px;background:#ececec;"></div>
<div class="a" style="left:483px;top:758px;width:252px;height:1px;background:#ececec;"></div>
<div class="a" style="left:483px;top:773px;width:252px;height:1px;background:#ececec;"></div>
<div class="a" style="left:483px;top:788px;width:252px;height:1px;background:#ececec;"></div>
<div class="a" style="left:483px;top:803px;width:252px;height:1px;background:#ececec;"></div>
<div class="a" style="left:483px;top:818px;width:252px;height:1px;background:#ececec;"></div>
<div class="a" style="left:483px;top:832px;width:252px;height:1px;background:#ececec;"></div>
<div class="a" style="left:483px;top:846px;width:252px;height:1px;background:#ececec;"></div>
<div class="a" style="left:483px;top:861.5px;width:252px;height:1px;background:#e2e2e2;"></div>
<div class="a" style="left:498.8px;top:823.5px;width:20px;height:38.0px;background:#d4e8f4;"></div>
<div class="t" style="left:495.05px;top:805.00px;font-size:7.6px;color:#707070;letter-spacing:0.007px;">765 095</div>
<div class="t" style="left:500.20px;top:864.50px;font-size:7.8px;color:#777;letter-spacing:-0.040px;">2012</div>
<div class="a" style="left:549.2px;top:776px;width:20px;height:85.5px;background:#d4e8f4;"></div>
<div class="t" style="left:541.95px;top:758.00px;font-size:7.6px;color:#707070;letter-spacing:0.078px;">1 731 120</div>
<div class="t" style="left:550.60px;top:864.50px;font-size:7.8px;color:#777;letter-spacing:-0.040px;">2013</div>
<div class="a" style="left:599.5px;top:765px;width:20px;height:96.5px;background:#d4e8f4;"></div>
<div class="t" style="left:592.25px;top:747.00px;font-size:7.6px;color:#707070;letter-spacing:0.078px;">1 955 433</div>
<div class="t" style="left:600.90px;top:864.50px;font-size:7.8px;color:#777;letter-spacing:-0.040px;">2014</div>
<div class="a" style="left:649.8px;top:747px;width:20px;height:114.5px;background:#d4e8f4;"></div>
<div class="t" style="left:642.55px;top:728.80px;font-size:7.6px;color:#707070;letter-spacing:0.078px;">2 326 276</div>
<div class="t" style="left:651.20px;top:864.50px;font-size:7.8px;color:#777;letter-spacing:-0.040px;">2015</div>
<div class="a" style="left:700px;top:745.5px;width:20px;height:116.0px;background:#4fa3d1;"></div>
<div class="t" style="left:692.75px;top:727.20px;font-size:7.6px;color:#707070;letter-spacing:0.142px;">2 360 115</div>
<div class="t" style="left:701.40px;top:864.50px;font-size:7.8px;color:#777;letter-spacing:-0.040px;">2016</div>
<div class="a" style="left:750px;top:487px;width:365px;height:400px;border:1px solid #dcdcdc;box-sizing:border-box;background:#fff;box-shadow:0 0 0 1px #f4f4f4;"></div>
<div class="t" style="left:755.80px;top:484.80px;font-size:11.3px;font-weight:700;color:#444;letter-spacing:-0.021px;">Региональное распределение организаций, ед.</div>
<svg class="a" style="left:0px;top:0px;pointer-events:none;" width="1440" height="899" viewBox="0 0 1440 899"><path d="M947.2 625.0L951.3 626.9L956.1 625.0L961.7 626.9L968.4 628.8L974.0 625.0L979.7 625.9L983.1 628.8L983.5 635.4L986.3 641.0L990.7 644.8L994.8 640.1L1000.5 640.7L1005.2 639.5L1010.0 636.3L1012.8 632.5L1019.4 632.0L1025.1 634.4L1027.4 638.2L1032.6 642.0L1037.4 644.8L1043.0 643.3L1047.8 644.8L1049.7 650.1L1055.3 652.0L1062.9 651.4L1070.5 655.2L1074.6 649.6L1080.9 649.6L1086.5 650.5L1091.3 654.3L1096.0 660.0L1100.7 664.7L1106.4 668.5L1110.2 667.1L1110.5 669.4L1107.3 673.2L1103.5 671.7L1099.8 667.5L1095.0 666.6L1091.3 670.4L1089.4 675.1L1086.5 677.9L1088.4 682.6L1083.7 683.6L1079.0 687.4L1074.2 692.1L1068.6 693.6L1062.9 693.0L1061.0 688.3L1062.0 685.5L1058.2 684.2L1053.4 688.3L1049.7 687.4L1043.0 692.1L1036.4 697.8L1030.8 695.9L1025.1 696.8L1018.5 697.8L1012.8 698.7L1007.1 703.4L1002.4 709.1L997.7 713.8L995.8 717.6L999.6 720.5L1004.3 721.4L1007.7 723.3L1007.7 729.9L1006.2 736.5L1003.3 742.2L999.6 746.9L995.8 751.7L993.3 753.0L990.7 749.8L994.8 746.0L996.7 740.3L997.1 735.6L993.9 735.2L989.5 737.5L985.4 732.7L981.6 728.0L977.8 723.3L974.0 720.5L970.3 718.6L968.4 712.9L966.1 707.2L963.6 701.6L960.8 697.8L956.1 695.9L951.3 696.8L946.6 697.4L943.8 693.0L942.3 688.3L940.9 682.6L937.7 678.9L938.5 671.3L937.2 663.7L937.7 656.2L939.1 650.5L940.9 645.8L944.7 642.9L947.9 640.1L949.5 635.4L947.9 629.7z" fill="#e08a3e" stroke="#fff" stroke-width="1.6" stroke-linejoin="round"/><path d="M1061.0 685.5L1058.7 690.2L1055.7 695.9L1053.1 700.6L1051.9 705.3L1053.4 709.1L1051.6 714.8L1048.7 719.5L1045.9 722.4L1044.4 726.1L1043.0 720.5L1042.5 712.9L1044.0 708.2L1047.8 704.4L1050.6 699.7L1053.4 694.9L1056.3 690.2L1058.2 685.5z" fill="#e08a3e" stroke="#e08a3e" stroke-width="0.3" stroke-linejoin="round"/><path d="M1003.3 607.0L1005.2 605.5L1006.6 608.9L1009.0 609.9L1010.3 608.5L1011.5 610.8L1008.4 612.3L1005.2 613.1L1003.3 610.4z" fill="#e08a3e" stroke="none" stroke-width="0" stroke-linejoin="round"/><path d="M1014.1 608.0L1016.0 608.0L1016.0 610.8L1014.1 610.4z" fill="#e08a3e" stroke="none" stroke-width="0" stroke-linejoin="round"/><path d="M1025.1 611.7L1028.9 612.7L1028.5 613.6L1025.1 613.1z" fill="#e08a3e" stroke="none" stroke-width="0" stroke-linejoin="round"/><path d="M1010.0 622.5L1012.8 623.7L1012.4 624.6L1010.0 623.7z" fill="#e08a3e" stroke="none" stroke-width="0" stroke-linejoin="round"/><path d="M1092.2 639.2L1095.4 639.2L1095.4 640.7L1092.2 640.7z" fill="#e08a3e" stroke="none" stroke-width="0" stroke-linejoin="round"/><path d="M1012.8 723.3L1013.9 725.2L1013.5 727.5L1012.6 726.1z" fill="#e08a3e" stroke="none" stroke-width="0" stroke-linejoin="round"/><path d="M1013.4 729.0L1014.7 730.9L1015.3 733.7L1014.1 733.3z" fill="#e08a3e" stroke="none" stroke-width="0" stroke-linejoin="round"/><path d="M931.8 591.7L934.0 592.9L932.9 597.3L935.6 600.7L940.7 600.2L946.3 600.7L948.5 604.7L949.6 610.7L946.3 615.8L941.4 620.7L936.3 624.7L931.8 628.5L930.7 631.8L935.1 630.7L940.7 627.8L945.2 629.1L946.7 634.0L945.8 639.6L942.3 644.1L939.1 647.8L937.8 653.0L938.5 660.8L937.4 668.6L939.1 676.3L940.7 681.9L944.0 689.7L946.3 696.4L949.6 698.6L955.2 697.5L959.6 698.6L963.0 705.3L965.2 712.0L966.8 717.5L965.2 724.2L961.9 728.7L956.3 731.6L948.5 730.9L940.7 728.7L932.9 729.8L926.2 726.4L919.6 725.3L914.0 728.7L908.4 730.9L901.7 729.8L896.2 733.1L890.6 732.0L885.1 727.5L879.5 725.3L875.0 720.9L869.5 716.4L863.9 714.2L862.8 709.7L868.4 706.4L873.9 700.8L876.1 695.3L882.8 693.0L890.6 689.7L892.8 684.1L890.6 677.5L888.4 669.7L886.6 661.9L887.9 655.2L889.5 649.6L886.2 650.1L881.7 651.4L879.9 647.4L883.5 645.2L885.1 638.5L883.9 631.8L882.8 626.3L888.4 624.0L895.1 622.9L896.2 617.4L899.5 611.8L907.3 608.4L915.1 606.2L921.8 605.1L925.8 600.7L928.5 595.8z" fill="#54c185" stroke="#fff" stroke-width="1.6" stroke-linejoin="round"/><path d="M906.6 560.6L909.5 555.0L912.4 551.7L914.7 553.9L914.0 558.4L910.7 562.4L908.0 562.8z" fill="#54c185" stroke="none" stroke-width="0" stroke-linejoin="round"/><path d="M911.8 567.3L914.0 564.6L916.2 566.1L919.6 567.3L920.7 570.6L918.4 576.2L915.1 575.1L911.8 572.8z" fill="#54c185" stroke="none" stroke-width="0" stroke-linejoin="round"/><path d="M924.5 580.2L928.0 577.3L931.8 578.4L932.5 581.1L929.6 583.3L925.1 582.8z" fill="#54c185" stroke="none" stroke-width="0" stroke-linejoin="round"/><path d="M881.3 638.5L883.5 638.1L883.9 644.1L881.7 643.0z" fill="#54c185" stroke="none" stroke-width="0" stroke-linejoin="round"/><path d="M858.1 630.8L862.5 630.5L863.4 635.2L862.3 639.8L863.4 644.5L864.6 650.7L865.4 655.4L864.6 659.3L861.5 661.6L858.1 664.0L857.2 666.6L859.2 668.2L863.1 667.8L866.5 665.5L869.0 662.4L870.2 658.5L869.6 652.3L868.5 646.8L869.0 642.2L867.4 636.7L868.5 636.2L870.9 639.8L874.0 642.2L877.1 641.1L879.4 642.9L878.7 646.8L881.0 649.5L883.3 652.0L884.1 656.9L884.9 662.4L887.7 667.1L889.6 673.3L890.8 680.3L889.9 686.2L886.7 689.6L881.8 691.5L877.1 694.3L872.4 697.4L867.8 700.5L864.6 702.9L862.8 706.0L862.3 710.7L860.0 713.0L853.7 714.6L846.0 716.4L839.7 717.4L838.2 713.0L836.9 708.3L835.8 704.4L838.2 699.0L837.9 692.8L838.2 686.5L838.5 680.3L839.4 675.6L842.1 672.5L846.0 669.4L850.3 666.3L851.4 661.9L850.3 657.3L852.5 658.2L855.0 659.4L856.5 655.4L855.6 649.2L854.7 642.9L856.2 638.3L855.3 634.4z" fill="#e5c446" stroke="#fff" stroke-width="0.5" stroke-linejoin="round"/><circle cx="837.2" cy="721.1" r="0.9" fill="#e5c446"/><path d="M772.5 655.4L775.9 652.0L780.6 653.1L786.0 654.1L790.7 656.2L796.1 658.7L801.6 660.4L804.9 661.3L805.8 661.9L807.0 661.9L809.4 663.2L816.4 660.8L824.2 658.5L830.4 656.9L835.1 655.4L839.0 651.5L841.3 649.9L845.2 651.0L847.2 653.8L846.7 659.3L843.6 664.0L839.7 667.8L837.4 671.0L835.8 674.9L835.4 680.3L835.1 686.5L834.7 690.9L830.4 692.0L824.2 693.5L819.5 695.9L814.8 694.6L811.7 691.2L809.4 692.0L808.6 697.4L805.5 699.0L800.8 699.8L793.0 699.8L786.8 701.3L782.1 703.7L778.2 706.0L774.3 709.9L772.0 708.3L770.9 702.9L773.6 699.0L772.8 694.3L774.7 689.6L778.2 685.0L776.7 680.3L775.6 674.1L775.1 667.8L776.7 663.2L773.6 660.1L772.0 657.7z" fill="#9bbd55" stroke="#fff" stroke-width="0.5" stroke-linejoin="round"/><path d="M776.8 662.6L780.6 662.2L786.0 663.8L791.2 665.4L794.6 664.1L796.4 665.4L795.5 667.4L791.8 668.0L795.5 670.6L800.5 670.3L804.2 667.5L805.2 662.9L806.4 662.9L806.1 668.3L801.7 671.9L798.0 675.9L793.8 679.1L788.7 678.4L782.4 676.6L781.5 672.2L781.8 668.5L778.4 665.7z" fill="#fff" stroke="none" stroke-width="0" stroke-linejoin="round"/><path d="M854.5 598.1L852.2 601.7L847.5 604.8L842.1 607.9L836.6 611.0L832.7 614.1L830.4 618.0L831.2 620.4L829.6 621.1L829.1 617.2L831.6 613.0L835.8 609.5L841.3 606.3L846.7 603.2L851.4 599.7z" fill="#9bbd55" stroke="#9bbd55" stroke-width="1.7" stroke-linejoin="round"/><path d="M826.0 627.4L827.3 628.9L826.5 632.8L827.6 636.7L828.1 640.6L827.0 641.4L824.9 637.5L822.9 635.2L823.9 631.3L824.9 628.6z" fill="#9bbd55" stroke="#9bbd55" stroke-width="1.1" stroke-linejoin="round"/><path d="M778.5 709.4L781.2 707.2L785.8 704.9L791.2 703.5L796.6 702.6L802.9 702.2L807.0 701.3L804.7 704.4L802.5 707.6L800.7 711.2L799.8 715.3L800.2 719.8L799.3 723.9L798.0 727.0L796.6 730.2L795.7 732.0L792.1 730.6L788.5 728.8L785.8 726.1L783.1 723.9L779.4 723.0L780.8 720.2L778.5 717.1L777.6 714.4L779.0 711.7z" fill="#54c185" stroke="#fff" stroke-width="0.5" stroke-linejoin="round"/><path d="M802.9 708.5L804.7 705.3L807.4 702.6L811.0 701.7L813.7 699.9L818.3 699.0L822.8 696.8L827.3 694.5L831.8 692.3L835.0 691.4L834.5 695.4L833.6 699.9L834.1 703.5L832.7 707.2L832.3 711.7L831.8 716.2L833.6 720.7L835.0 724.8L836.8 727.5L836.3 728.8L831.8 727.9L827.3 727.0L822.8 726.1L818.3 725.7L813.7 727.5L809.2 727.9L804.7 727.5L802.5 726.1L803.4 722.5L802.0 718.9L802.9 714.4L802.2 711.2z" fill="#54c185" stroke="#fff" stroke-width="0.5" stroke-linejoin="round"/><path d="M800.2 730.4L803.8 730.2L804.7 731.5L808.3 732.0L808.2 736.0L807.4 738.7L809.2 740.6L810.9 741.6L809.2 742.8L809.4 745.2L807.4 744.6L804.7 743.3L802.0 744.2L799.3 745.1L796.6 744.2L795.2 746.4L795.7 748.7L793.0 748.2L791.2 747.1L793.9 744.6L795.7 741.5L796.6 737.8L798.0 734.2L799.3 732.4z" fill="#e5c446" stroke="#fff" stroke-width="0.4" stroke-linejoin="round"/><path d="M799.8 746.4L802.9 746.2L805.2 747.8L807.4 749.6L808.8 752.3L811.0 755.9L808.3 754.5L806.1 752.7L803.4 751.4L801.1 750.0L800.7 748.2z" fill="#f2565f" stroke="none" stroke-width="0" stroke-linejoin="round"/></svg>
<div class="t" style="left:790.50px;top:649.00px;font-size:7.6px;color:#707070;letter-spacing:-0.179px;">301 624</div>
<div class="t" style="left:847.90px;top:666.90px;font-size:7.6px;color:#707070;letter-spacing:-0.179px;">221 207</div>
<div class="t" style="left:806.10px;top:703.10px;font-size:7.6px;color:#707070;letter-spacing:-0.179px;">419 729</div>
<div class="t" style="left:779.00px;top:707.30px;font-size:7.6px;color:#707070;letter-spacing:-0.179px;">736 460</div>
<div class="t" style="left:782.40px;top:732.20px;font-size:7.6px;color:#707070;letter-spacing:-0.179px;">221 170</div>
<div class="t" style="left:793.05px;top:743.00px;font-size:7.6px;color:#707070;letter-spacing:-0.122px;">51 598</div>
<div class="t" style="left:900.40px;top:633.90px;font-size:7.6px;color:#707070;letter-spacing:-0.179px;">307 810</div>
<div class="t" style="left:1010.10px;top:671.10px;font-size:7.6px;color:#707070;letter-spacing:-0.179px;">100 717</div>
<div class="t" style="left:921.10px;top:804.60px;font-size:8px;color:#999;letter-spacing:0.169px;">Цвет:</div>
<div class="a" style="left:771.6px;top:826.4px;width:10.8px;height:10.8px;background:#f4646c;border-radius:50%;"></div>
<div class="t" style="left:786.20px;top:821.60px;font-size:8.8px;color:#909090;letter-spacing:0.007px;">от 1 (мин.) до 5 577</div>
<div class="a" style="left:871.0px;top:826.4px;width:10.8px;height:10.8px;background:#e08a3e;border-radius:50%;"></div>
<div class="t" style="left:885.60px;top:821.60px;font-size:8.8px;color:#909090;letter-spacing:-0.042px;">от 5 577 до 11 944</div>
<div class="a" style="left:1004.0px;top:826.4px;width:10.8px;height:10.8px;background:#e5c040;border-radius:50%;"></div>
<div class="t" style="left:1018.60px;top:821.60px;font-size:8.8px;color:#909090;letter-spacing:-0.034px;">от 11 944 до 24 015</div>
<div class="a" style="left:771.6px;top:841.2px;width:10.8px;height:10.8px;background:#9bbd55;border-radius:50%;"></div>
<div class="t" style="left:786.20px;top:836.40px;font-size:8.8px;color:#909090;letter-spacing:-0.079px;">от 24 015 до 44 784</div>
<div class="a" style="left:871.0px;top:841.2px;width:10.8px;height:10.8px;background:#54c185;border-radius:50%;"></div>
<div class="t" style="left:885.60px;top:836.40px;font-size:8.8px;color:#909090;letter-spacing:-0.058px;">от 44 784 до 419 729 (макс.)</div>
<div class="a" style="left:1004.0px;top:841.2px;width:10.8px;height:10.8px;background:#e9e9e9;border-radius:50%;"></div>
<div class="t" style="left:1018.60px;top:836.40px;font-size:8.8px;color:#909090;letter-spacing:-0.131px;">нет данных</div>
<div class="a" style="left:759.5px;top:863.5px;width:15px;height:15px;background:#fff;border:1px solid #e0e0e0;border-radius:50%;box-sizing:border-box;box-shadow:0 1px 2px rgba(0,0,0,0.18);"></div>
<svg class="a" style="left:763.5px;top:867px;" width="7" height="7" viewBox="0 0 7 7"><path d="M0.800 0.500L6 3.500L0.800 6.500z" fill="#909090"/></svg>
<div class="a" style="left:779px;top:865px;width:331px;height:15px;background:#fff;border:1px solid #dedede;box-sizing:border-box;"></div>
<div class="a" style="left:834.37px;top:866px;width:1px;height:13px;background:#e4e4e4;"></div>
<div class="a" style="left:889.4399999999999px;top:866px;width:1px;height:13px;background:#e4e4e4;"></div>
<div class="a" style="left:944.51px;top:866px;width:1px;height:13px;background:#e4e4e4;"></div>
<div class="a" style="left:999.5799999999999px;top:866px;width:1px;height:13px;background:#e4e4e4;"></div>
<div class="a" style="left:1054.65px;top:866px;width:1px;height:13px;background:#e4e4e4;"></div>
<div class="a" style="left:999px;top:864.5px;width:55.5px;height:15.5px;background:#d6ebf9;border:1.500px solid #4a9fdb;box-sizing:border-box;"></div>
<div class="t" style="left:798.63px;top:863.00px;font-size:7.6px;color:#222;letter-spacing:-0.127px;-webkit-text-stroke:0.150px #222;">2012</div>
<div class="t" style="left:853.70px;top:863.00px;font-size:7.6px;color:#222;letter-spacing:-0.127px;-webkit-text-stroke:0.150px #222;">2013</div>
<div class="t" style="left:908.77px;top:863.00px;font-size:7.6px;color:#222;letter-spacing:-0.127px;-webkit-text-stroke:0.150px #222;">2014</div>
<div class="t" style="left:963.84px;top:863.00px;font-size:7.6px;color:#222;letter-spacing:-0.127px;-webkit-text-stroke:0.150px #222;">2015</div>
<div class="t" style="left:1018.91px;top:863.00px;font-size:7.6px;color:#222;letter-spacing:-0.127px;-webkit-text-stroke:0.150px #222;">2016</div>
<div class="t" style="left:1073.98px;top:863.00px;font-size:7.6px;color:#222;letter-spacing:-0.127px;-webkit-text-stroke:0.150px #222;">2017</div>
<div class="a" style="left:1122px;top:487px;width:302px;height:202px;border:1px solid #dcdcdc;box-sizing:border-box;background:#fff;box-shadow:0 0 0 1px #f4f4f4;"></div>
<div class="t" style="left:1127.50px;top:484.80px;font-size:11.3px;font-weight:700;color:#444;">Динамика прибыли по всем видам деятельности,</div>
<div class="t" style="left:1127.50px;top:496.60px;font-size:11.3px;font-weight:700;color:#444;letter-spacing:-0.014px;">млрд руб.</div>
<div class="t" style="left:1136.70px;top:519.70px;font-size:7.6px;color:#6e6e6e;letter-spacing:-0.039px;">14 000</div>
<div class="t" style="left:1136.70px;top:533.76px;font-size:7.6px;color:#6e6e6e;letter-spacing:-0.039px;">12 444</div>
<div class="t" style="left:1136.70px;top:547.82px;font-size:7.6px;color:#6e6e6e;letter-spacing:-0.039px;">10 889</div>
<div class="t" style="left:1138.55px;top:561.88px;font-size:7.6px;color:#6e6e6e;letter-spacing:0.057px;">9 333</div>
<div class="t" style="left:1138.55px;top:575.94px;font-size:7.6px;color:#6e6e6e;letter-spacing:0.057px;">7 778</div>
<div class="t" style="left:1138.55px;top:590.00px;font-size:7.6px;color:#6e6e6e;letter-spacing:0.057px;">6 222</div>
<div class="t" style="left:1138.55px;top:604.06px;font-size:7.6px;color:#6e6e6e;letter-spacing:0.057px;">4 667</div>
<div class="t" style="left:1138.55px;top:618.12px;font-size:7.6px;color:#6e6e6e;letter-spacing:0.285px;">3 111</div>
<div class="t" style="left:1138.55px;top:632.18px;font-size:7.6px;color:#6e6e6e;letter-spacing:0.057px;">1 556</div>
<div class="t" style="left:1146.08px;top:646.24px;font-size:7.6px;color:#6e6e6e;">0</div>
<svg class="a" style="left:0px;top:0px;pointer-events:none;" width="1440" height="899" viewBox="0 0 1440 899"><path d="M1167.500 530.5H1416" stroke="#ececec" stroke-width="1"/><path d="M1167.500 544.5H1416" stroke="#ececec" stroke-width="1"/><path d="M1167.500 558.5H1416" stroke="#ececec" stroke-width="1"/><path d="M1167.500 572.5H1416" stroke="#ececec" stroke-width="1"/><path d="M1167.500 586.5H1416" stroke="#ececec" stroke-width="1"/><path d="M1167.500 600.5H1416" stroke="#ececec" stroke-width="1"/><path d="M1167.500 615.5H1416" stroke="#ececec" stroke-width="1"/><path d="M1167.500 629.5H1416" stroke="#ececec" stroke-width="1"/><path d="M1167.500 643.5H1416" stroke="#ececec" stroke-width="1"/><path d="M1167.500 657.5H1416" stroke="#ececec" stroke-width="1"/><path d="M1193.5 530V657" stroke="#ececec" stroke-width="1"/><path d="M1242.5 530V657" stroke="#ececec" stroke-width="1"/><path d="M1292.5 530V657" stroke="#ececec" stroke-width="1"/><path d="M1341.5 530V657" stroke="#ececec" stroke-width="1"/><path d="M1391.5 530V657" stroke="#ececec" stroke-width="1"/><path d="M1192.600 656.700L1192.6 559.5L1242.3 577.7L1291.7 602.4L1341.4 568.6L1391 532.9L1391 656.700z" fill="#52a3d0"/><circle cx="1192.6" cy="559.5" r="1.900" fill="#e860a0"/><circle cx="1242.3" cy="577.7" r="1.900" fill="#e860a0"/><circle cx="1291.7" cy="602.4" r="1.900" fill="#e860a0"/><circle cx="1341.4" cy="568.6" r="1.900" fill="#e860a0"/><circle cx="1391" cy="532.9" r="1.900" fill="#e860a0"/><path d="M1142.500 650V657" stroke="#e4e4e4" stroke-width="1"/></svg>
<div class="t" style="left:1184.00px;top:659.60px;font-size:7.8px;color:#777;letter-spacing:-0.040px;">2012</div>
<div class="t" style="left:1233.70px;top:659.60px;font-size:7.8px;color:#777;letter-spacing:-0.040px;">2013</div>
<div class="t" style="left:1283.10px;top:659.60px;font-size:7.8px;color:#777;letter-spacing:-0.040px;">2014</div>
<div class="t" style="left:1332.80px;top:659.60px;font-size:7.8px;color:#777;letter-spacing:-0.040px;">2015</div>
<div class="t" style="left:1382.40px;top:659.60px;font-size:7.8px;color:#777;letter-spacing:-0.040px;">2016</div>
<div class="a" style="left:1122px;top:695px;width:302px;height:192px;border:1px solid #dcdcdc;box-sizing:border-box;background:#fff;box-shadow:0 0 0 1px #f4f4f4;"></div>
<div class="t" style="left:1127.60px;top:693.00px;font-size:11.3px;font-weight:700;color:#444;">Нормализованное распределение активов по</div>
<div class="t" style="left:1127.60px;top:705.00px;font-size:11.3px;font-weight:700;color:#444;letter-spacing:0.019px;">отраслям, млрд руб.</div>
<div class="t" style="left:1139.60px;top:734.20px;font-size:7.8px;color:#8a8a8a;letter-spacing:-0.040px;">2016</div>
<div class="t" style="left:1139.60px;top:760.10px;font-size:7.8px;color:#8a8a8a;letter-spacing:-0.040px;">2015</div>
<div class="t" style="left:1139.60px;top:786.00px;font-size:7.8px;color:#8a8a8a;letter-spacing:-0.040px;">2014</div>
<div class="t" style="left:1139.60px;top:811.90px;font-size:7.8px;color:#8a8a8a;letter-spacing:-0.040px;">2013</div>
<div class="t" style="left:1139.60px;top:837.80px;font-size:7.8px;color:#8a8a8a;letter-spacing:-0.040px;">2012</div>
<svg class="a" style="left:0px;top:0px;pointer-events:none;" width="1440" height="899" viewBox="0 0 1440 899"><path d="M1161.5 731.500V860" stroke="#e6e6e6" stroke-width="1"/><path d="M1209.5 731.500V860" stroke="#e6e6e6" stroke-width="1"/><path d="M1257.5 731.500V860" stroke="#e6e6e6" stroke-width="1"/><path d="M1306.5 731.500V860" stroke="#e6e6e6" stroke-width="1"/><path d="M1354.5 731.500V860" stroke="#e6e6e6" stroke-width="1"/><rect x="1160.71" y="739" width="5.63" height="10" fill="#7dbab5"/><rect x="1166.19" y="739" width="18.01" height="10" fill="#a9c33d"/><rect x="1184.05" y="739" width="15.15" height="10" fill="#e9a935"/><rect x="1199.05" y="739" width="6.58" height="10" fill="#5b9df5"/><rect x="1205.48" y="739" width="1.10" height="10" fill="#ffa8a8"/><rect x="1206.43" y="739" width="7.77" height="10" fill="#8e38a8"/><rect x="1214.05" y="739" width="34.91" height="10" fill="#ffd600"/><rect x="1248.81" y="739" width="11.10" height="10" fill="#ff8d8d"/><rect x="1259.76" y="739" width="3.01" height="10" fill="#9cccc6"/><rect x="1262.62" y="739" width="63.96" height="10" fill="#c3d667"/><rect x="1326.43" y="739" width="8.96" height="10" fill="#f0bb60"/><rect x="1335.24" y="739" width="63.96" height="10" fill="#82b4f8"/><rect x="1399.05" y="739" width="1.82" height="10" fill="#ff6f5a"/><rect x="1400.71" y="739" width="1.10" height="10" fill="#ffa8a8"/><rect x="1401.67" y="739" width="1.10" height="10" fill="#86c898"/><rect x="1160.71" y="764.9" width="4.91" height="10" fill="#7dbab5"/><rect x="1165.48" y="764.9" width="30.15" height="10" fill="#a9c33d"/><rect x="1195.48" y="764.9" width="23.72" height="10" fill="#e9a935"/><rect x="1219.05" y="764.9" width="5.15" height="10" fill="#5b9df5"/><rect x="1224.05" y="764.9" width="1.34" height="10" fill="#f4442e"/><rect x="1225.24" y="764.9" width="13.72" height="10" fill="#8e38a8"/><rect x="1238.81" y="764.9" width="56.58" height="10" fill="#ffd600"/><rect x="1295.24" y="764.9" width="18.72" height="10" fill="#ff8d8d"/><rect x="1313.81" y="764.9" width="6.10" height="10" fill="#9cccc6"/><rect x="1319.76" y="764.9" width="29.91" height="10" fill="#c3d667"/><rect x="1349.52" y="764.9" width="15.63" height="10" fill="#f0bb60"/><rect x="1365.00" y="764.9" width="31.10" height="10" fill="#82b4f8"/><rect x="1395.95" y="764.9" width="2.53" height="10" fill="#ff6f5a"/><rect x="1398.33" y="764.9" width="1.58" height="10" fill="#a862c0"/><rect x="1399.76" y="764.9" width="1.10" height="10" fill="#ffe03d"/><rect x="1400.71" y="764.9" width="2.05" height="10" fill="#86c898"/><rect x="1160.71" y="790.8" width="4.91" height="10" fill="#7dbab5"/><rect x="1165.48" y="790.8" width="28.48" height="10" fill="#a9c33d"/><rect x="1193.81" y="790.8" width="23.25" height="10" fill="#e9a935"/><rect x="1216.90" y="790.8" width="4.67" height="10" fill="#5b9df5"/><rect x="1221.43" y="790.8" width="2.05" height="10" fill="#f4442e"/><rect x="1223.33" y="790.8" width="13.48" height="10" fill="#8e38a8"/><rect x="1236.67" y="790.8" width="60.63" height="10" fill="#ffd600"/><rect x="1297.14" y="790.8" width="19.67" height="10" fill="#ff8d8d"/><rect x="1316.67" y="790.8" width="6.82" height="10" fill="#9cccc6"/><rect x="1323.33" y="790.8" width="31.58" height="10" fill="#c3d667"/><rect x="1354.76" y="790.8" width="14.91" height="10" fill="#f0bb60"/><rect x="1369.52" y="790.8" width="26.58" height="10" fill="#82b4f8"/><rect x="1395.95" y="790.8" width="2.53" height="10" fill="#ff6f5a"/><rect x="1398.33" y="790.8" width="1.58" height="10" fill="#a862c0"/><rect x="1399.76" y="790.8" width="1.10" height="10" fill="#ffe03d"/><rect x="1400.71" y="790.8" width="2.05" height="10" fill="#86c898"/><rect x="1160.71" y="816.7" width="4.20" height="10" fill="#7dbab5"/><rect x="1164.76" y="816.7" width="20.86" height="10" fill="#a9c33d"/><rect x="1185.48" y="816.7" width="19.44" height="10" fill="#e9a935"/><rect x="1204.76" y="816.7" width="3.72" height="10" fill="#5b9df5"/><rect x="1208.33" y="816.7" width="1.10" height="10" fill="#f4442e"/><rect x="1209.29" y="816.7" width="12.53" height="10" fill="#8e38a8"/><rect x="1221.67" y="816.7" width="38.72" height="10" fill="#ffd600"/><rect x="1260.24" y="816.7" width="17.29" height="10" fill="#ff8d8d"/><rect x="1277.38" y="816.7" width="5.39" height="10" fill="#9cccc6"/><rect x="1282.62" y="816.7" width="74.91" height="10" fill="#c3d667"/><rect x="1357.38" y="816.7" width="11.82" height="10" fill="#f0bb60"/><rect x="1369.05" y="816.7" width="28.48" height="10" fill="#82b4f8"/><rect x="1397.38" y="816.7" width="1.58" height="10" fill="#ff6f5a"/><rect x="1398.81" y="816.7" width="1.34" height="10" fill="#a862c0"/><rect x="1400.00" y="816.7" width="0.86" height="10" fill="#ffe03d"/><rect x="1400.71" y="816.7" width="2.05" height="10" fill="#86c898"/><rect x="1160.71" y="842.6" width="5.86" height="10" fill="#7dbab5"/><rect x="1166.43" y="842.6" width="20.39" height="10" fill="#a9c33d"/><rect x="1186.67" y="842.6" width="29.91" height="10" fill="#e9a935"/><rect x="1216.43" y="842.6" width="5.15" height="10" fill="#5b9df5"/><rect x="1221.43" y="842.6" width="2.05" height="10" fill="#f4442e"/><rect x="1223.33" y="842.6" width="15.63" height="10" fill="#8e38a8"/><rect x="1238.81" y="842.6" width="46.58" height="10" fill="#ffd600"/><rect x="1285.24" y="842.6" width="24.91" height="10" fill="#ff8d8d"/><rect x="1310.00" y="842.6" width="8.01" height="10" fill="#9cccc6"/><rect x="1317.86" y="842.6" width="36.58" height="10" fill="#c3d667"/><rect x="1354.29" y="842.6" width="13.01" height="10" fill="#f0bb60"/><rect x="1367.14" y="842.6" width="29.91" height="10" fill="#82b4f8"/><rect x="1396.90" y="842.6" width="2.05" height="10" fill="#ff6f5a"/><rect x="1398.81" y="842.6" width="2.05" height="10" fill="#a862c0"/><rect x="1400.71" y="842.6" width="1.34" height="10" fill="#ffe03d"/><rect x="1401.90" y="842.6" width="0.86" height="10" fill="#f0bb60"/></svg>
<div class="t" style="left:1155.07px;top:864.20px;font-size:7.8px;color:#8a8a8a;">0%</div>
<div class="t" style="left:1201.24px;top:864.20px;font-size:7.8px;color:#8a8a8a;">20%</div>
<div class="t" style="left:1249.58px;top:864.20px;font-size:7.8px;color:#8a8a8a;">40%</div>
<div class="t" style="left:1298.39px;top:864.20px;font-size:7.8px;color:#8a8a8a;">60%</div>
<div class="t" style="left:1346.48px;top:864.20px;font-size:7.8px;color:#8a8a8a;">80%</div>
<div class="t" style="left:1392.64px;top:864.20px;font-size:7.8px;color:#8a8a8a;">100%</div>
</div>
</body></html>
